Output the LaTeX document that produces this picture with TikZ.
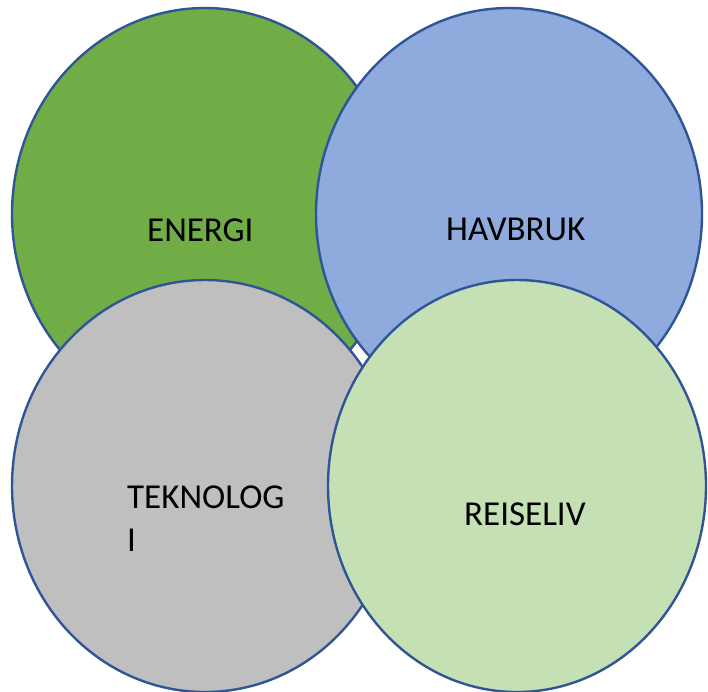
\documentclass[tikz,border=0pt]{standalone}
\usepackage{fontspec}
\setmainfont{Carlito}
\usetikzlibrary{shapes.geometric}
\definecolor{cGreen}{HTML}{70AD47}
\definecolor{cBlue}{HTML}{8FAADC}
\definecolor{cGray}{HTML}{BFBFBF}
\definecolor{cLight}{HTML}{C5E0B4}
\definecolor{cEdge}{HTML}{2F5597}
\begin{document}
\begin{tikzpicture}[x=1pt,y=-1pt,
  blob/.style={ellipse, draw=cEdge, line width=2.4pt, inner sep=0pt,
    minimum width=386pt, minimum height=412pt},
  lbl/.style={anchor=base west, inner sep=0pt, text=black,
    font=\fontsize{35}{42}\selectfont}]
\useasboundingbox (0,0) rectangle (708,691);
\node[blob, fill=cGreen] (energi) at (205,214) {};
\node[blob, fill=cBlue] (havbruk) at (509,214) {};
\node[blob, fill=cGray] (tekno) at (205,486) {};
\node[blob, fill=cLight, minimum width=378pt] (reise) at (517,486) {};
\node[lbl] (tEnergi) at (147,241) {ENERGI};
\node[lbl] (tHavbruk) at (446,240) {HAVBRUK};
\node[lbl] (tTekno1) at (127,508) {TEKNOLOG};
\node[lbl] (tTekno2) at (127,551) {I};
\node[lbl] (tReise) at (464,525) {REISELIV};
\end{tikzpicture}
\end{document}
